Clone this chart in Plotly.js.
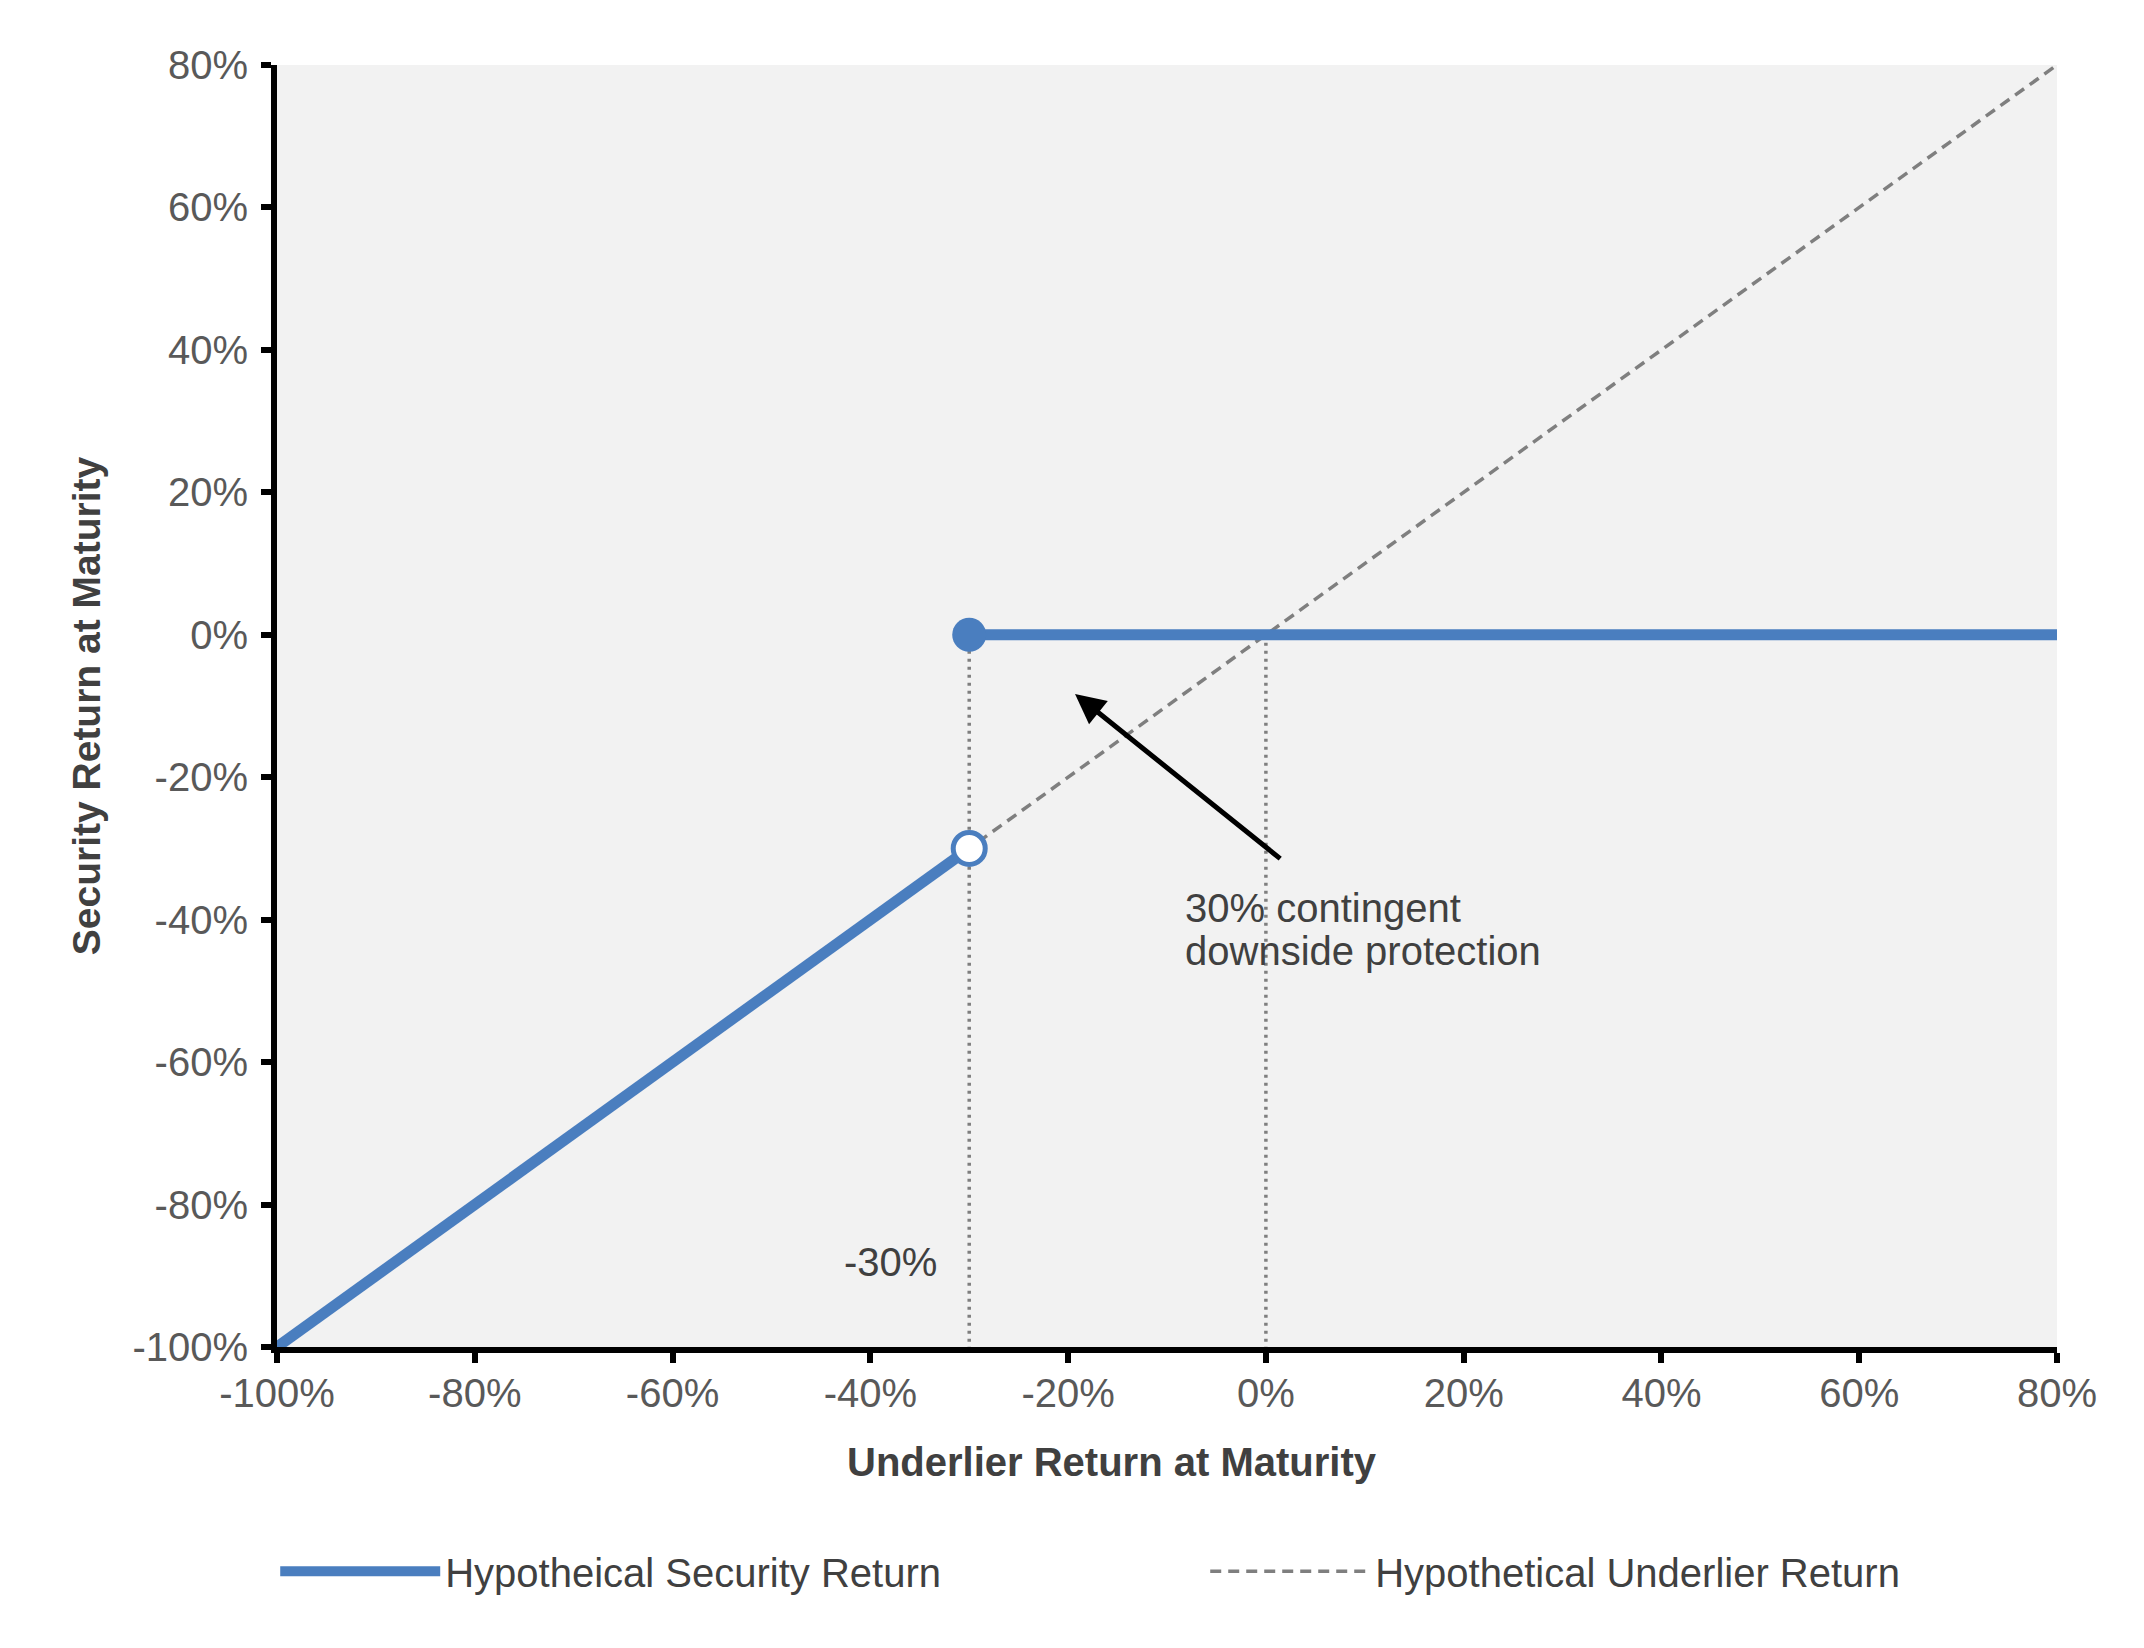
<!DOCTYPE html>
<html>
<head>
<meta charset="utf-8">
<script src="https://cdn.plot.ly/plotly-3.0.1.min.js"></script>
<style>
  html, body { margin: 0; padding: 0; background: #fff; }
</style>
</head>
<body>
<div id="chart" style="width:2144px;height:1648px;"></div>
<script>
// payoff points, all in %
const securityX = [-100, -30, null, -30, 80];
const securityY = [-100, -30, null, 0, 0];
const underlierX = [-100, 80];
const underlierY = [-100, 80];

// barrier level and the two markers at it
const barrierX = [-30];
const barrierHighY = [0];
const barrierLowY = [-30];

// dotted guide lines down to the x axis
const guideX = [-30, 0];
const guideTopY = 0;
const guideBottomY = -100;

const tickVals = [-100, -80, -60, -40, -20, 0, 20, 40, 60, 80];
const tickText = ['-100%', '-80%', '-60%', '-40%', '-20%', '0%', '20%', '40%', '60%', '80%'];

// annotation points (data coords)
const arrowHead = [-19.3, -8.3];
const arrowTail = [1.6, -31.6];
const noteLines = ['30% contingent', 'downside protection'];
const noteX = -8.4;
const noteY = [-38.4, -44.4];
const barrierLabelXY = [-38, -88];

const blue = '#4a7ebf';
const fontFam = '"Liberation Sans", Arial, sans-serif';

var underlier = {
  x: underlierX,
  y: underlierY,
  type: 'scatter',
  mode: 'lines',
  name: 'Hypothetical Underlier Return',
  line: {color: '#7f7f7f', width: 3.5, dash: '11px,7px'},
  legendrank: 2,
  hoverinfo: 'skip'
};

var guides = guideX.map(gx => ({
  x: [gx, gx],
  y: [guideTopY, guideBottomY],
  type: 'scatter',
  mode: 'lines',
  line: {color: '#7f7f7f', width: 3.5, dash: '3px,5px'},
  showlegend: false,
  hoverinfo: 'skip'
}));

var security = {
  x: securityX,
  y: securityY,
  type: 'scatter',
  mode: 'lines',
  name: 'Hypotheical Security Return',
  line: {color: blue, width: 11},
  connectgaps: false,
  legendrank: 1,
  hoverinfo: 'skip'
};

var filledDot = {
  x: barrierX,
  y: barrierHighY,
  type: 'scatter',
  mode: 'markers',
  marker: {size: 34, color: blue},
  showlegend: false,
  hoverinfo: 'skip'
};

var openDot = {
  x: barrierX,
  y: barrierLowY,
  type: 'scatter',
  mode: 'markers',
  marker: {size: 32, color: '#ffffff', line: {color: blue, width: 5}},
  showlegend: false,
  hoverinfo: 'skip'
};

var data = [underlier, ...guides, security, filledDot, openDot];

var axisCommon = {
  range: [-100, 80],
  tickvals: tickVals,
  ticktext: tickText,
  showgrid: false,
  zeroline: false,
  showline: true,
  linecolor: '#000',
  linewidth: 6,
  ticks: 'outside',
  ticklen: 10,
  tickwidth: 6,
  tickcolor: '#000',
  tickfont: {family: fontFam, size: 40, color: '#595959'},
  fixedrange: true
};

var layout = {
  width: 2144,
  height: 1648,
  margin: {l: 277, r: 87, t: 65, b: 301},
  paper_bgcolor: '#ffffff',
  plot_bgcolor: '#f2f2f2',
  font: {family: fontFam, color: '#404040'},
  xaxis: Object.assign({}, axisCommon, {
    ticklabelstandoff: -4
  }),
  yaxis: Object.assign({}, axisCommon, {
    ticklabelstandoff: 5,
    title: {text: '<b>Security Return at Maturity</b>', font: {family: fontFam, size: 39, color: '#404040'}, standoff: 22}
  }),
  showlegend: true,
  legend: {
    orientation: 'h',
    x: -0.001,
    xanchor: 'left',
    y: -0.175,
    yanchor: 'middle',
    itemwidth: 160,
    entrywidth: 755,
    entrywidthmode: 'pixels',
    font: {family: fontFam, size: 40, color: '#404040'},
    bgcolor: 'rgba(0,0,0,0)'
  },
  annotations: [
    {
      x: 0.469, y: -0.0897, xref: 'paper', yref: 'paper',
      text: '<b>Underlier Return at Maturity</b>', showarrow: false,
      xanchor: 'center', yanchor: 'middle',
      font: {family: fontFam, size: 40, color: '#404040'}
    },
    {
      x: arrowHead[0], y: arrowHead[1], xref: 'x', yref: 'y',
      ax: arrowTail[0], ay: arrowTail[1], axref: 'x', ayref: 'y',
      text: '', showarrow: true,
      arrowhead: 2, arrowsize: 1.2, arrowwidth: 5, arrowcolor: '#000'
    },
    ...noteLines.map((t, i) => ({
      x: noteX, y: noteY[i], xref: 'x', yref: 'y',
      text: t, showarrow: false, xanchor: 'left', yanchor: 'middle', align: 'left',
      font: {family: fontFam, size: 40, color: '#404040'}
    })),
    {
      x: barrierLabelXY[0], y: barrierLabelXY[1], xref: 'x', yref: 'y',
      text: '-30%', showarrow: false, xanchor: 'center', yanchor: 'middle',
      font: {family: fontFam, size: 40, color: '#404040'}
    }
  ]
};

Plotly.newPlot('chart', data, layout, {staticPlot: true, displayModeBar: false});
</script>
</body>
</html>
